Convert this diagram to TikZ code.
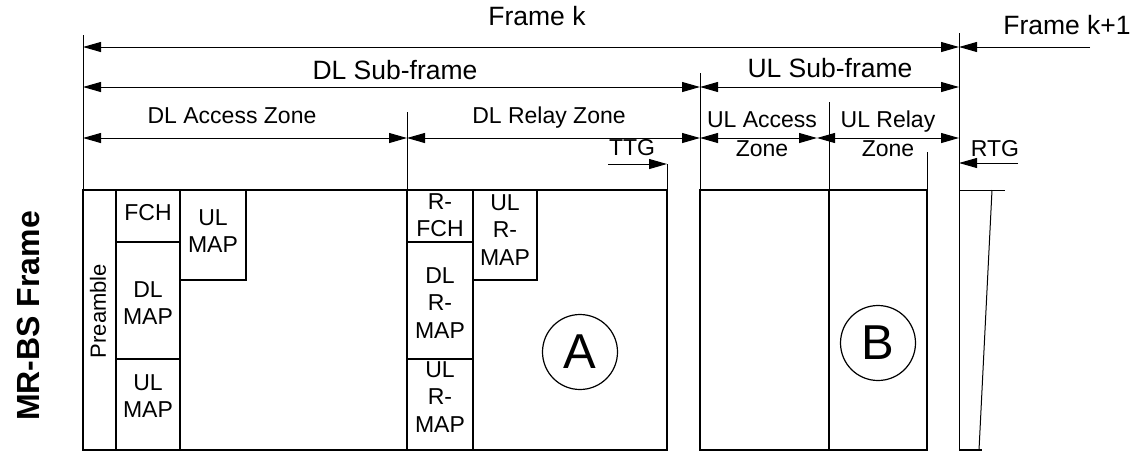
\documentclass[tikz,border=0pt]{standalone}
\usepackage{fontspec}
\setmainfont{Liberation Sans}
\usetikzlibrary{arrows.meta}
\begin{document}
\begin{tikzpicture}[x=1pt,y=-1pt,
  thinline/.style={line width=1pt},
  thickline/.style={line width=2.2pt},
  dimline/.style={line width=1pt,{Triangle[length=18pt,width=10pt]}-{Triangle[length=18pt,width=10pt]}},
  oneway/.style={line width=1pt,-{Triangle[length=18pt,width=10pt]}},
  biglabel/.style={font=\fontsize{26.5}{30}\selectfont, inner sep=0pt, text height=19pt, text depth=0pt},
  midlabel/.style={font=\fontsize{23}{27.5}\selectfont, inner sep=0pt, text height=16.5pt, text depth=0pt},
  twoline/.style={font=\fontsize{23}{29}\selectfont, inner sep=0pt, align=center},
  cell/.style={font=\fontsize{23}{27.5}\selectfont, inner sep=0pt, align=center},
  lettercircle/.style={draw, circle, line width=1.2pt, minimum size=75pt, inner sep=0pt, font=\fontsize{49}{49}\selectfont}
]
\useasboundingbox (0,0) rectangle (1137,451);

% ---------- extension (thin) lines ----------
\draw[thinline] (83,35) -- (83,190);
\draw[thinline] (407,112) -- (407,190);
\draw[thinline] (667,164) -- (667,190);
\draw[thinline] (700,73) -- (700,190);
\draw[thinline] (829,102) -- (829,190);
\draw[thinline] (927,152) -- (927,190);
\draw[thinline] (959,33) -- (959,450);

% ---------- dimension arrows ----------
\coordinate (fkL) at (83,47);
\coordinate (fkR) at (959,47);
\coordinate (fk1S) at (1090,47);
\coordinate (dlsL) at (83,87);
\coordinate (dlsR) at (700,87);
\coordinate (ulsR) at (959,87);
\coordinate (dlaL) at (83,138);
\coordinate (dlaR) at (407,138);
\coordinate (dlrR) at (700,138);
\coordinate (ulaR) at (817,138);
\coordinate (ulrR) at (959,138);
\coordinate (ttgS) at (608,164);
\coordinate (ttgE) at (667,164);
\coordinate (rtgS) at (1018,163);
\coordinate (rtgE) at (959,163);

\draw[dimline] (fkL) -- (fkR);
\draw[oneway] (fk1S) -- (fkR);
\draw[dimline] (dlsL) -- (dlsR);
\draw[dimline] (dlsR) -- (ulsR);
\draw[dimline] (dlaL) -- (dlaR);
\draw[dimline] (dlaR) -- (dlrR);
\draw[dimline] (dlrR) -- (ulaR);
\draw[dimline] (ulaR) -- (ulrR);
\draw[oneway] (ttgS) -- (ttgE);
\draw[oneway] (rtgS) -- (rtgE);

% ---------- labels ----------
\node[biglabel] (fk) at (537,16) {Frame k};
\node[biglabel] (fk1) at (1067,25) {Frame k+1};
\node[biglabel] (dls) at (395,70) {DL Sub-frame};
\node[biglabel] (uls) at (830,68) {UL Sub-frame};
\node[midlabel] (dla) at (232,115) {DL Access Zone};
\node[midlabel] (dlr) at (549,115) {DL Relay Zone};
\node[twoline] (ula) at (762,134) {UL Access\\Zone};
\node[twoline] (ulr) at (888,134) {UL Relay\\Zone};
\node[midlabel] (ttg) at (632,147) {TTG};
\node[midlabel] (rtg) at (995,148) {RTG};

% ---------- cell texts ----------
\node[rotate=90, font=\fontsize{22}{26}\selectfont, inner sep=0pt] (pre) at (98,311) {Preamble};
\node[cell] (fch) at (148,213) {FCH};
\node[cell] (dlmap) at (148,303) {DL\\MAP};
\node[cell] (ulmap) at (148,396) {UL\\MAP};
\node[cell] (ulmapt) at (213,231) {UL\\MAP};
\node[cell] (rfch) at (440,215) {R-\\FCH};
\node[cell] (dlrmap) at (440,303) {DL\\R-\\MAP};
\node[cell] (ulrmap) at (440,397) {UL\\R-\\MAP};
\node[cell] (ulrmapt) at (505,230) {UL\\R-\\MAP};

\node[lettercircle] (A) at (580,352) {A};
\node[lettercircle] (B) at (878,343) {B};

\node[rotate=90, font=\bfseries\fontsize{32}{36}\selectfont, inner sep=0pt] (mrbs) at (28,316) {MR-BS Frame};

% ---------- frame boxes ----------
\draw[thickline] (83,190) rectangle (667,450);
\draw[thickline] (116,190) -- (116,450);
\draw[thickline] (180,190) -- (180,450);
\draw[thickline] (116,242) -- (180,242);
\draw[thickline] (116,359) -- (180,359);
\draw[thickline] (180,280) -- (246,280) -- (246,190);
\draw[thickline] (407,190) -- (407,450);
\draw[thickline] (473,190) -- (473,450);
\draw[thickline] (407,242) -- (473,242);
\draw[thickline] (407,359) -- (473,359);
\draw[thickline] (473,280) -- (537,280) -- (537,190);

\draw[thickline] (700,190) rectangle (927,450);
\draw[thickline] (829,190) -- (829,450);

\draw[thinline] (959,190) -- (1005,190);
\draw[thinline] (992,190) -- (979,450);
\draw[line width=1.6pt] (959,450) -- (982,450);
\end{tikzpicture}
\end{document}
